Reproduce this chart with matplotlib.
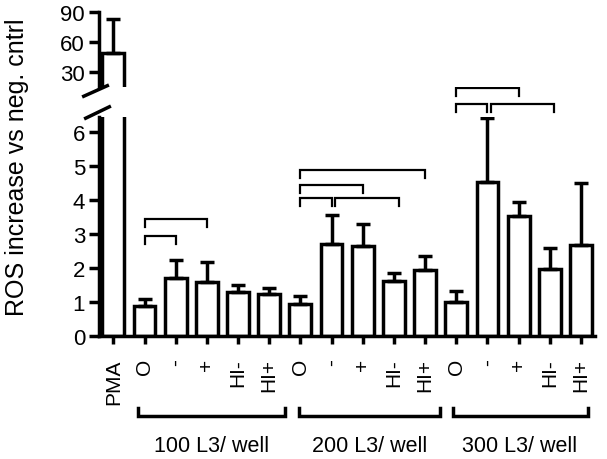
import matplotlib
matplotlib.use("Agg")
import matplotlib.pyplot as plt
import numpy as np

plt.rcParams['font.family'] = ['Liberation Sans', 'DejaVu Sans']

# ---- data ----
tick_labels = ["PMA",
               "O", "-", "+", "HI-", "HI+",
               "O", "-", "+", "HI-", "HI+",
               "O", "-", "+", "HI-", "HI+"]
means = [48.9,
         0.885, 1.72, 1.59, 1.30, 1.24,
         0.93, 2.70, 2.65, 1.62, 1.94,
         0.99, 4.54, 3.52, 1.97, 2.68]
upper = [83.3,
         1.08, 2.23, 2.19, 1.50, 1.42,
         1.18, 3.57, 3.30, 1.85, 2.37,
         1.33, 6.41, 3.94, 2.59, 4.50]
group_names = ["100 L3/ well", "200 L3/ well", "300 L3/ well"]
group_members = [(1, 5), (6, 10), (11, 15)]
# significance brackets: (bar index a, bar index b, height)
sig_pairs = [(1, 2, 2.95), (1, 3, 3.44),
             (6, 7, 4.07), (6, 8, 4.45), (6, 10, 4.89), (7, 9, 4.06),
             (11, 12, 6.83), (11, 13, 7.30), (12, 14, 6.83)]

# ---- layout ----
W, H = 607, 460
fig = plt.figure(figsize=(W / 100, H / 100), dpi=100)
left = 99 / W
width = 496 / W
ax_b = fig.add_axes([left, 1 - 337 / H, width, (337 - 118) / H])
ax_t = fig.add_axes([left, 1 - 88 / H, width, (88 - 13) / H])

x = np.arange(len(means))
err = np.array(upper) - np.array(means)
lw = 2.5
for ax in (ax_b, ax_t):
    ax.bar(x, means, width=0.7, color='white', edgecolor='black', linewidth=lw,
           yerr=[np.zeros_like(err), err],
           error_kw=dict(ecolor='black', elinewidth=lw, capsize=5, capthick=lw),
           zorder=2)
    ax.set_xlim(-0.46, 15.45)
    for s in ('top', 'right'):
        ax.spines[s].set_visible(False)
    ax.spines['left'].set_linewidth(lw)
    ax.spines['bottom'].set_linewidth(lw)
    ax.tick_params(axis='y', length=7, width=lw, labelsize=16, pad=3)

ax_b.set_ylim(0, 6.45)
ax_b.set_yticks(range(0, 7))
ax_b.set_xticks(x)
ax_b.set_xticklabels(tick_labels, rotation=90, fontsize=15)
ax_b.tick_params(axis='x', length=6, width=lw, pad=10)

ax_t.set_ylim(15, 90)
ax_t.set_yticks([30, 60, 90])
ax_t.spines['bottom'].set_visible(False)
ax_t.set_xticks([])

# break marks
ax_t.plot([-0.034, 0.020], [-0.133, 0.027], transform=ax_t.transAxes,
          color='black', lw=lw, clip_on=False, solid_capstyle='butt')
ax_b.plot([-0.030, 0.024], [0.991, 1.05], transform=ax_b.transAxes,
          color='black', lw=lw, clip_on=False, solid_capstyle='butt')

# significance brackets
ends = set()
drop = 0.24
for a, b, h in sig_pairs:
    shift_a = 0.12 if a in ends else 0.0
    shift_b = 0.15 if a in ends else 0.0
    xa, xb = a + shift_a, b + shift_b
    ax_b.plot([xa, xa, xb, xb], [h - drop, h, h, h - drop], color='black',
              lw=1.6, clip_on=False, solid_joinstyle='miter')
    ends.add(b)

# group brackets below the axis
trans = ax_b.get_xaxis_transform()
offsets = [(-0.22, 0.51), (-0.06, 0.48), (-0.12, 0.21)]
for (g0, g1), name, (o0, o1) in zip(group_members, group_names, offsets):
    xa, xb = g0 + o0, g1 + o1
    ax_b.plot([xa, xa, xb, xb], [-0.329, -0.365, -0.365, -0.329], transform=trans,
              color='black', lw=lw, clip_on=False, solid_joinstyle='miter')
    ax_b.text((xa + xb) / 2, -0.50, name, transform=trans, ha='center',
              va='center', fontsize=15.5)

fig.text(17 / W, 1 - 167.5 / H, "ROS increase vs neg. cntrl", rotation=90,
         ha='center', va='center', fontsize=18)

fig.savefig("out.png", dpi=100)
